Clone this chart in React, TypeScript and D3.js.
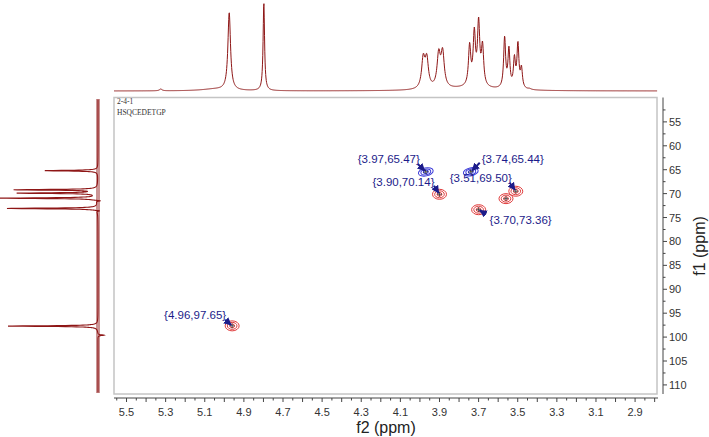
import React from 'react';
import * as d3 from 'd3';

// ---- data ----
const F2_TICK_LABELS = [5.5, 5.3, 5.1, 4.9, 4.7, 4.5, 4.3, 4.1, 3.9, 3.7, 3.5, 3.3, 3.1, 2.9];
const F1_TICK_LABELS = [55, 60, 65, 70, 75, 80, 85, 90, 95, 100, 105, 110];

// 1H projection (top): peak positions (ppm), heights (relative), half widths (ppm)
const H_PPM = [5.325, 5.05, 4.975, 4.798, 3.983, 3.965, 3.904, 3.884, 3.75, 3.746, 3.722, 3.700, 3.680, 3.567, 3.545, 3.517, 3.499, 3.481, 3.44];
const H_HEIGHT = [0.02, 0.02, 0.88, 1.0, 0.33, 0.32, 0.37, 0.39, 0.03, 0.45, 0.58, 0.70, 0.44, 0.57, 0.43, 0.32, 0.49, 0.22, 0.01];
const H_WIDTH = [0.008, 0.08, 0.008, 0.0045, 0.01, 0.01, 0.01, 0.01, 0.15, 0.007, 0.007, 0.007, 0.007, 0.006, 0.006, 0.006, 0.006, 0.006, 0.01];

// 13C projection (left): peak positions (ppm), heights (relative)
const C_PPM = [65.2, 69.2, 69.9, 70.95, 71.5, 73.1, 73.6, 97.7, 99.6];
const C_HEIGHT = [0.59, 0.92, 0.88, 1.12, -0.06, 1.01, -0.05, 1.0, -0.07];

// HSQC cross peaks
const PEAK_F2 = [3.97, 3.74, 3.90, 3.51, 3.56, 3.70, 4.96];
const PEAK_F1 = [65.47, 65.44, 70.14, 69.50, 71.05, 73.36, 97.65];
const PEAK_PHASE = ['neg', 'neg', 'pos', 'pos', 'pos', 'pos', 'pos'];
const PEAK_LABELLED = [true, true, true, true, false, true, true];

const TITLE_LINES = ['2-4-1', 'HSQCEDETGP'];

// ---- layout (not data) ----
const W = 709, H = 437;
const BOX = { left: 114, right: 657, top: 97.5, bottom: 394 };
// label text centre offsets and arrow start offsets relative to the peak centre
const LABEL_DX = [-37, 42, -36, -35, 0, 42, -37];
const LABEL_DY = [-13, -13, -12.5, -13.5, 0, 10, -11];
const ARROW_DX = [-8, 9, -5.5, -6, 0, 7.5, -7];
const ARROW_DY = [-8, -9, -8.5, -8.5, 0, 4.5, -6];

const RED = '#e03a3a';
const BLUE = '#3a3ad8';
const NAVY = '#1c1c8a';
const SPEC = '#8e1616';

function lorentz(x: number, x0: number, w: number) {
  const d = (x - x0) / w;
  return 1 / (1 + d * d);
}

export default function App() {
  const x = d3.scaleLinear().domain([5.564, 2.788]).range([BOX.left, BOX.right]);
  const y = d3.scaleLinear().domain([49.9, 111.9]).range([BOX.top, BOX.bottom]);

  // top spectrum
  const yTop = d3.scaleLinear().domain([0, 1]).range([91, 3]);
  const hPts: [number, number][] = d3.range(5.564, 2.786, -0.0015).map((p) => {
    let v = 0;
    for (let i = 0; i < H_PPM.length; i++) v += H_HEIGHT[i] * lorentz(p, H_PPM[i], H_WIDTH[i]);
    return [x(p), yTop(v)];
  });
  const topLine = d3.line()(hPts) || '';

  // left spectrum
  const xLeft = d3.scaleLinear().domain([0, 1]).range([98, 8]);
  const cPts: [number, number][] = d3.range(50.3, 111.6, 0.02).map((p) => {
    let v = 0;
    for (let i = 0; i < C_PPM.length; i++) v += C_HEIGHT[i] * lorentz(p, C_PPM[i], 0.09);
    return [xLeft(v), y(p)];
  });
  const leftLine = d3.line()(cPts) || '';

  const f2Minor = d3.range(5.55, 2.779, -0.05);
  const f1Minor = d3.range(52.5, 111.0, 2.5);

  const axisY = 398;
  const axisX = 663;
  const sans = "'Liberation Sans', Arial, sans-serif";

  return (
    <svg width={W} height={H} style={{ position: 'absolute', left: 0, top: 0, background: '#fff' }}>
      <defs>
        <marker id="ah" viewBox="0 0 10 10" refX="9" refY="5" markerWidth="4" markerHeight="4" orient="auto">
          <path d="M0,0 L10,5 L0,10 z" fill={NAVY} />
        </marker>
      </defs>
      <rect x={0} y={0} width={W} height={H} fill="#fff" />

      {/* top projection */}
      <path d={topLine} fill="none" stroke={SPEC} strokeWidth={1} />

      {/* left projection */}
      <line x1={98} x2={98} y1={y(50.3)} y2={y(111.6)} stroke={SPEC} strokeWidth={4} strokeDasharray="1 1" opacity={0.9} />
      <path d={leftLine} fill="none" stroke={SPEC} strokeWidth={1.1} />

      {/* plot frame */}
      <rect x={BOX.left} y={BOX.top} width={BOX.right - BOX.left} height={BOX.bottom - BOX.top} fill="#fff" stroke="#c4c4c4" strokeWidth={1.5} />
      {TITLE_LINES.map((t, i) => (
        <text key={t} x={BOX.left + 3} y={BOX.top + 6.5 + i * 11} fontSize={7.5} fontFamily="'Liberation Serif', serif" fill="#333">{t}</text>
      ))}

      {/* cross peaks */}
      {PEAK_F2.map((p, i) => {
        const cx = x(p), cy = y(PEAK_F1[i]);
        const neg = PEAK_PHASE[i] === 'neg';
        const col = neg ? BLUE : RED;
        const rx = neg ? [7.5, 5, 2.5] : [7, 4.8, 2.4];
        const ry = neg ? [4, 2.8, 1.5] : [5, 3.5, 1.8];
        return (
          <g key={i} transform={`translate(${cx},${cy}) rotate(${neg ? -12 : 0})`}>
            {rx.map((r, k) => (
              <ellipse key={k} cx={0} cy={0} rx={r} ry={ry[k]} fill="none" stroke={col} strokeWidth={1} />
            ))}
            <line x1={-2.5} x2={2.5} y1={0} y2={0} stroke="#333" strokeWidth={0.8} />
            <line x1={0} x2={0} y1={-2.5} y2={2.5} stroke="#333" strokeWidth={0.8} />
          </g>
        );
      })}

      {/* annotations */}
      {PEAK_F2.map((p, i) => {
        if (!PEAK_LABELLED[i]) return null;
        const cx = x(p), cy = y(PEAK_F1[i]);
        const label = `{${p.toFixed(2)},${PEAK_F1[i].toFixed(2)}}`;
        return (
          <g key={'a' + i}>
            <line x1={cx + ARROW_DX[i]} y1={cy + ARROW_DY[i]} x2={cx + ARROW_DX[i] * 0.15} y2={cy + ARROW_DY[i] * 0.15}
              stroke={NAVY} strokeWidth={2} markerEnd="url(#ah)" />
            <text x={cx + LABEL_DX[i]} y={cy + LABEL_DY[i] + 4} textAnchor="middle" fontSize={11.5} fontFamily={sans} fill={NAVY}>{label}</text>
          </g>
        );
      })}

      {/* bottom axis */}
      <line x1={BOX.left} x2={BOX.right + 1} y1={axisY} y2={axisY} stroke="#444" strokeWidth={1} />
      {f2Minor.map((t, i) => (
        <line key={i} x1={x(t)} x2={x(t)} y1={axisY} y2={axisY + (i % 2 === 1 ? 4 : 2.5)} stroke="#444" strokeWidth={1} />
      ))}
      {F2_TICK_LABELS.map((t) => (
        <text key={t} x={x(t)} y={416} textAnchor="middle" fontSize={11} fontFamily={sans} fill="#333">{t.toFixed(1)}</text>
      ))}
      <text x={386} y={433} textAnchor="middle" fontSize={16} fontFamily={sans} fill="#222">f2 (ppm)</text>

      {/* right axis */}
      <line x1={axisX} x2={axisX} y1={BOX.top} y2={BOX.bottom} stroke="#444" strokeWidth={1} />
      {f1Minor.map((t, i) => (
        <line key={i} x1={axisX} x2={axisX + (i % 2 === 1 ? 4 : 2.5)} y1={y(t)} y2={y(t)} stroke="#444" strokeWidth={1} />
      ))}
      {F1_TICK_LABELS.map((t) => (
        <text key={t} x={669} y={y(t) + 4} fontSize={11} fontFamily={sans} fill="#333">{t}</text>
      ))}
      <text transform={`translate(705,${246}) rotate(-90)`} textAnchor="middle" fontSize={16} fontFamily={sans} fill="#222">f1 (ppm)</text>
    </svg>
  );
}
